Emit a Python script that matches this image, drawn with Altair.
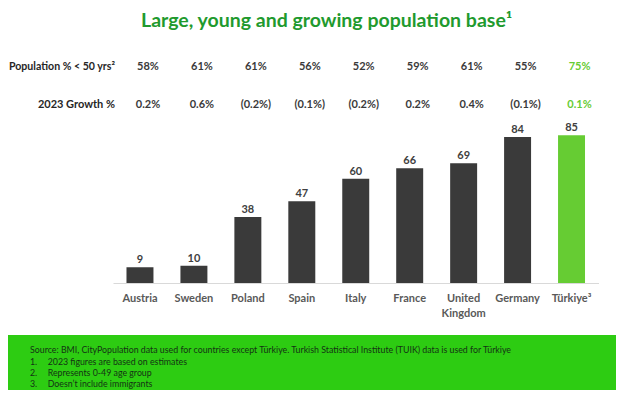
import altair as alt
import pandas as pd

# ---- data ----
countries = ["Austria", "Sweden", "Poland", "Spain", "Italy", "France",
             "United Kingdom", "Germany", "Türkiye"]
population_m = [9, 10, 38, 47, 60, 66, 69, 84, 85]
under50_pct = ["58%", "61%", "61%", "56%", "52%", "59%", "61%", "55%", "75%"]
growth_2023 = ["0.2%", "0.6%", "(0.2%)", "(0.1%)", "(0.2%)", "0.2%", "0.4%", "(0.1%)", "0.1%"]
highlight = ["no", "no", "no", "no", "no", "no", "no", "no", "yes"]

title_text = "Large, young and growing population base¹"
row_labels = ["Population % < 50 yrs²", "2023 Growth %"]
source_note = ("Source: BMI, CityPopulation data used for countries except Türkiye. "
               "Turkish Statistical Institute (TUIK) data is used for Türkiye")
note_numbers = ["1.", "2.", "3."]
note_texts = ["2023 figures are based on estimates",
              "Represents 0-49 age group",
              "Doesn’t include immigrants"]

df = pd.DataFrame({
    "country": countries,
    "value": population_m,
    "under50": under50_pct,
    "growth": growth_2023,
    "hl": highlight,
})

FONT = "Lato"
W, H = 608, 275
BOTTOM = 382 - H

xenc = alt.X(
    "country:N", sort=countries,
    scale=alt.Scale(range=[105, 590.5], paddingInner=0.5, paddingOuter=0.25),
    axis=alt.Axis(
        title=None, labelAngle=0, ticks=False, grid=False,
        domainColor="#d9d9d9", domainWidth=1,
        labelFont=FONT, labelFontSize=11, labelFontWeight="bold",
        labelColor="#595959", labelPadding=9, labelLineHeight=15,
        labelExpr="datum.value == 'United Kingdom' ? ['United', 'Kingdom'] : "
                  "(datum.value == 'Türkiye' ? 'Türkiye³' : datum.label)",
    ),
)
yenc = alt.Y("value:Q", scale=alt.Scale(domain=[0, 158.3]), axis=None)

base = alt.Chart(df)

bars = base.mark_bar().encode(
    x=xenc,
    y=yenc,
    color=alt.Color("hl:N", scale=alt.Scale(domain=["no", "yes"], range=["#3a3a3a", "#66cc33"]),
                    legend=None),
)

bar_labels = base.mark_text(baseline="bottom", dy=-2, font=FONT, fontSize=11,
                            fontWeight="bold", color="#404040").encode(
    x=alt.X("country:N", sort=countries),
    y=yenc,
    text="value:Q",
)

tcolor = alt.Color("hl:N", scale=alt.Scale(domain=["no", "yes"], range=["#262626", "#3aaa35"]),
                   legend=None)

row1 = base.mark_text(baseline="middle", dx=8, font=FONT, fontSize=11,
                      fontWeight="bold").encode(
    x=alt.X("country:N", sort=countries), y=alt.value(58.7), text="under50:N", color=tcolor)
row2 = base.mark_text(baseline="middle", dx=8, font=FONT, fontSize=11,
                      fontWeight="bold").encode(
    x=alt.X("country:N", sort=countries), y=alt.value(97), text="growth:N", color=tcolor)

one = alt.Chart(pd.DataFrame({"k": [0]}))

lab1 = one.mark_text(align="right", baseline="middle", font=FONT, fontSize=10.6,
                     fontWeight="bold", color="#262626", text=row_labels[0]).encode(
    x=alt.value(107), y=alt.value(58.7))
lab2 = one.mark_text(align="right", baseline="middle", font=FONT, fontSize=11,
                     fontWeight="bold", color="#262626", text=row_labels[1]).encode(
    x=alt.value(107), y=alt.value(97))

title = one.mark_text(align="left", baseline="alphabetic", font=FONT, fontSize=19.5,
                      fontWeight="bold", color="#1f9a2e", text=title_text).encode(
    x=alt.value(133), y=alt.value(18.5))

footer = one.mark_rect(color="#2dcc12").encode(
    x=alt.value(0), x2=alt.value(W), y=alt.value(327), y2=alt.value(382))

NOTE_STYLE = dict(align="left", baseline="middle", font=FONT, fontSize=8.8, color="#143314")
src = one.mark_text(text=source_note, **NOTE_STYLE).encode(x=alt.value(22), y=alt.value(342))
note_ys = [353.5, 364.7, 376]
note_layers = []
for num, txt, yy in zip(note_numbers, note_texts, note_ys):
    note_layers.append(one.mark_text(text=num, **NOTE_STYLE).encode(x=alt.value(22), y=alt.value(yy)))
    note_layers.append(one.mark_text(text=txt, **NOTE_STYLE).encode(x=alt.value(39.7), y=alt.value(yy)))

chart = alt.layer(footer, bars, bar_labels, row1, row2, lab1, lab2, title, src, *note_layers).properties(
    width=W, height=H,
    autosize=alt.AutoSizeParams(type="none"),
    padding={"left": 0, "top": 0, "right": 0, "bottom": BOTTOM},
    background="white",
).configure_view(stroke=None)

chart.save("out.html", embed_options={"renderer": "svg", "actions": False})
